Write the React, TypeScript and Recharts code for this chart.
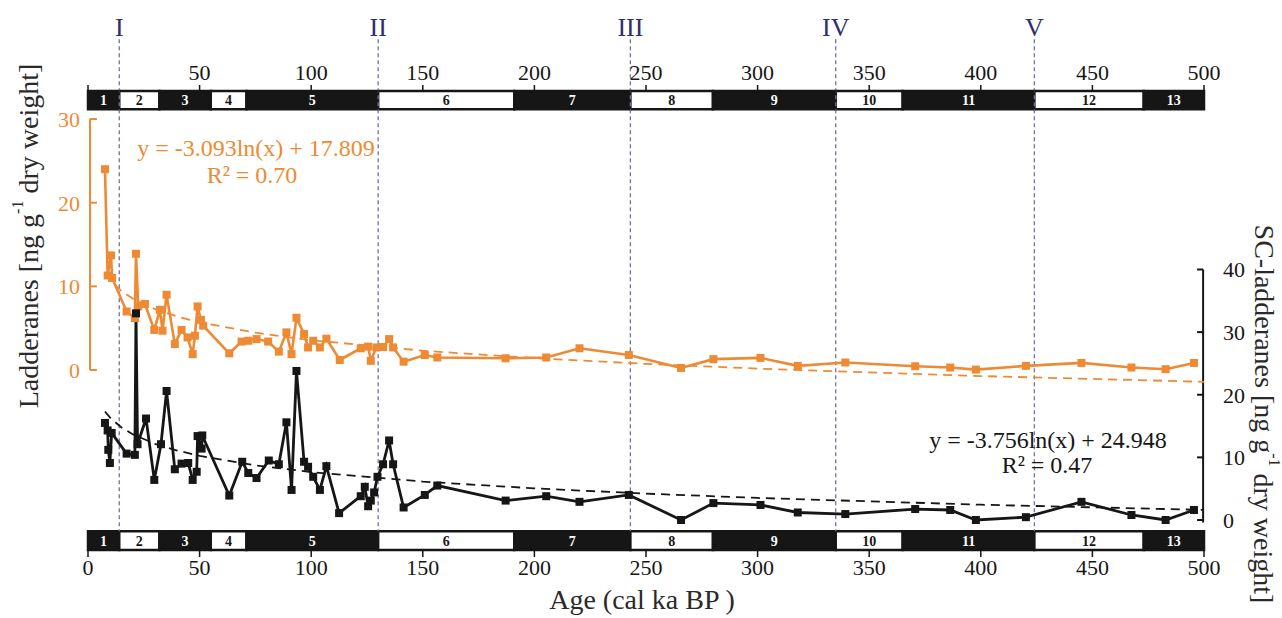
import { ComposedChart, Line, XAxis, YAxis, ReferenceArea, ReferenceLine } from "recharts"

const FONT = "'Liberation Serif', 'DejaVu Serif', serif"
const ORANGE = "#ED8A33"
const INK = "#161616"
const NAVY = "#2C3070"
const GUIDE = "#6F72A3"

// Ladderanes (left axis), age in cal ka BP
const orangeAge = [
    7.6, 8.8, 10.3, 10.8, 17.3, 21.0, 21.5, 22.5, 25.5, 29.7, 32.2, 33.4, 35.2, 38.9, 41.9, 44.6,
    46.9, 47.9, 49.1, 50.6, 51.6, 63.3, 68.8, 71.8, 75.5, 80.7, 85.5, 88.9, 91.2, 93.4, 96.8, 98.6,
    100.9, 103.9, 106.8, 112.8, 122.2, 125.5, 126.7, 129.2, 132.2, 134.9, 136.7, 141.4, 150.9, 156.5,
    187.1, 205.3, 220.2, 242.3, 265.7, 280.2, 301.3, 318.0, 339.3, 370.6, 386.3, 397.8, 420.2, 445.1,
    467.5, 482.8, 495.5,
]
const orangeVal = [
    24.0, 11.3, 13.7, 11.0, 7.0, 6.2, 13.9, 7.6, 7.9, 4.8, 7.2, 4.7, 9.0, 3.1, 4.8, 3.9,
    1.9, 4.1, 7.6, 6.0, 5.3, 2.0, 3.4, 3.5, 3.7, 3.4, 2.2, 4.5, 1.9, 6.25, 4.3, 2.7,
    3.5, 2.7, 3.75, 1.2, 2.6, 2.8, 1.1, 2.7, 2.75, 3.7, 2.7, 1.0, 1.8, 1.5,
    1.4, 1.5, 2.6, 1.8, 0.25, 1.3, 1.45, 0.5, 0.9, 0.45, 0.3, 0.05, 0.5, 0.85,
    0.3, 0.1, 0.85,
]

// SC-ladderanes (right axis)
const blackAge = [
    7.6, 8.8, 9.1, 9.8, 10.6, 17.3, 21.0, 21.5, 22.2, 26.0, 29.7, 32.7, 35.2, 38.9, 41.9, 44.9,
    46.9, 48.7, 49.1, 50.9, 51.2, 63.3, 69.1, 71.8, 75.5, 81.0, 85.5, 88.9, 91.2, 93.4, 96.8, 98.6,
    100.9, 103.9, 106.8, 112.5, 122.2, 124.0, 125.5, 126.7, 128.2, 129.7, 132.2, 134.9, 136.7, 141.4,
    150.9, 156.5, 187.1, 205.3, 220.2, 242.3, 265.7, 280.2, 301.3, 318.0, 339.3, 370.6, 386.3, 397.8,
    420.2, 445.1, 467.5, 482.8, 495.5,
]
const blackVal = [
    15.5, 14.3, 11.2, 9.1, 13.9, 10.6, 10.4, 33.0, 12.1, 16.2, 6.4, 12.1, 20.6, 8.1, 9.0, 9.1,
    6.4, 7.7, 13.4, 11.4, 13.5, 3.9, 9.3, 7.5, 6.7, 9.5, 8.9, 15.6, 4.8, 23.8, 9.3, 8.5,
    6.9, 4.8, 8.6, 1.1, 3.8, 5.3, 2.2, 3.1, 4.4, 6.9, 8.9, 12.7, 8.9, 2.0,
    4.0, 5.5, 3.1, 3.8, 2.9, 4.0, 0.0, 2.7, 2.4, 1.2, 0.95, 1.75, 1.6, 0.0,
    0.45, 2.9, 0.8, 0.0, 1.6,
]

// log trendlines, sampled from the fitted equations printed on the figure
const trendAge = [7.6, 10, 15, 20, 30, 40, 50, 75, 100, 150, 200, 250, 300, 400, 500]
const orangeTrend = [11.54, 10.69, 9.43, 8.54, 7.29, 6.4, 5.71, 4.46, 3.57, 2.31, 1.42, 0.73, 0.17, -0.72, -1.41]
const blackTrend = [17.33, 16.3, 14.78, 13.7, 12.17, 11.09, 10.25, 8.73, 7.65, 6.13, 5.05, 4.21, 3.52, 2.44, 1.61]

// marine isotope stages
const misEdges = [0, 14, 32, 55, 71, 130, 191, 243, 280, 335, 365, 424, 473, 500]
const misNames = ["1", "2", "3", "4", "5", "6", "7", "8", "9", "10", "11", "12", "13"]

const periodAges = [14, 130, 243, 335, 424]
const periodNames = ["I", "II", "III", "IV", "V"]

const ageTicks = [0, 50, 100, 150, 200, 250, 300, 350, 400, 450, 500]
const leftTicks = [0, 10, 20, 30]
const rightTicks = [0, 10, 20, 30, 40]

const orangeData = orangeAge.map((age, i) => ({ age, v: orangeVal[i] }))
const blackData = blackAge.map((age, i) => ({ age, v: blackVal[i] }))
const orangeTrendData = trendAge.map((age, i) => ({ age, v: orangeTrend[i] }))
const blackTrendData = trendAge.map((age, i) => ({ age, v: blackTrend[i] }))

const square = (fill: string) => (p: any) => (
    <rect key={`sq-${p.index}`} x={p.cx - 4} y={p.cy - 4} width={8} height={8} fill={fill} />
)

const tickFont = { fontSize: 22, fontFamily: FONT }

function MisBar({ top }: { top: boolean }) {
    const y1 = top ? 0 : 95.9
    const y2 = top ? 4 : 100
    return (
        <>
            {misNames.map((name, i) => {
                const odd = i % 2 === 0
                return (
                    <ReferenceArea
                        key={`${top ? "t" : "b"}-${name}`}
                        xAxisId="bottom"
                        yAxisId="frame"
                        x1={misEdges[i]}
                        x2={misEdges[i + 1]}
                        y1={y1}
                        y2={y2}
                        fill={odd ? INK : "#fff"}
                        fillOpacity={1}
                        stroke={INK}
                        strokeWidth={2.5}
                        label={{
                            value: name,
                            position: "center",
                            fill: odd ? "#fff" : INK,
                            fontSize: 14,
                            fontWeight: 700,
                            fontFamily: FONT,
                        }}
                    />
                )
            })}
        </>
    )
}

export default function App() {
    return (
        <div style={{ position: "absolute", left: 0, top: 0, width: 1282, height: 618, background: "#fff" }}>
            <ComposedChart
                width={1282}
                height={618}
                margin={{ top: 51, right: 28, bottom: 28, left: 38 }}
            >
                <XAxis
                    xAxisId="bottom"
                    dataKey="age"
                    type="number"
                    domain={[0, 500]}
                    ticks={ageTicks}
                    height={40}
                    stroke={INK}
                    strokeWidth={1.5}
                    tickSize={7}
                    tickMargin={2}
                    tick={{ ...tickFont, fill: INK }}
                    allowDataOverflow
                />
                <XAxis
                    xAxisId="top"
                    orientation="top"
                    dataKey="age"
                    type="number"
                    domain={[0, 500]}
                    ticks={ageTicks}
                    height={40}
                    stroke={INK}
                    strokeWidth={1.5}
                    tickSize={6}
                    tickMargin={5}
                    tickFormatter={(v: number) => (v === 0 ? "" : String(v))}
                    tick={{ ...tickFont, fill: INK }}
                    allowDataOverflow
                />
                <YAxis yAxisId="frame" hide width={0} type="number" domain={[0, 100]} reversed allowDataOverflow />
                <YAxis
                    yAxisId="left"
                    type="number"
                    domain={[-21.51, 33.35]}
                    ticks={leftTicks}
                    width={50}
                    axisLine={false}
                    tickLine={false}
                    tickSize={0}
                    tickMargin={8}
                    tick={{ ...tickFont, fill: ORANGE }}
                    allowDataOverflow
                />
                <YAxis
                    yAxisId="right"
                    orientation="right"
                    type="number"
                    domain={[-4.79, 68.5]}
                    ticks={rightTicks}
                    width={50}
                    axisLine={false}
                    tickLine={false}
                    tickSize={0}
                    tickMargin={19}
                    tick={{ ...tickFont, fill: INK }}
                    allowDataOverflow
                />

                {periodAges.map((age, i) => (
                    <ReferenceLine
                        key={periodNames[i]}
                        xAxisId="bottom"
                        yAxisId="frame"
                        segment={[{ x: age, y: -11.3 }, { x: age, y: 95.9 }]}
                        ifOverflow="visible"
                        stroke={GUIDE}
                        strokeWidth={1.3}
                        strokeDasharray="4 3"
                        label={{ value: periodNames[i], position: "top", offset: 3, fill: NAVY, fontSize: 26, fontFamily: FONT }}
                    />
                ))}

                <MisBar top />
                <MisBar top={false} />

                {/* left axis bracket */}
                <ReferenceLine
                    xAxisId="bottom"
                    yAxisId="left"
                    segment={[{ x: 0.9, y: 0 }, { x: 0.9, y: 30 }]}
                    ifOverflow="visible"
                    stroke={ORANGE}
                    strokeWidth={2}
                />
                {leftTicks.map((t) => (
                    <ReferenceLine
                        key={`lt-${t}`}
                        xAxisId="bottom"
                        yAxisId="left"
                        segment={[{ x: 0.9, y: t }, { x: 4, y: t }]}
                        ifOverflow="visible"
                        stroke={ORANGE}
                        strokeWidth={2}
                    />
                ))}
                {/* right axis */}
                <ReferenceLine
                    xAxisId="bottom"
                    yAxisId="right"
                    segment={[{ x: 499.6, y: -0.4 }, { x: 499.6, y: 40 }]}
                    ifOverflow="visible"
                    stroke={INK}
                    strokeWidth={2}
                />
                {rightTicks.map((t) => (
                    <ReferenceLine
                        key={`rt-${t}`}
                        xAxisId="bottom"
                        yAxisId="right"
                        segment={[{ x: 496.9, y: t }, { x: 499.6, y: t }]}
                        ifOverflow="visible"
                        stroke={INK}
                        strokeWidth={2}
                    />
                ))}

                <Line
                    xAxisId="bottom"
                    yAxisId="left"
                    data={orangeTrendData}
                    dataKey="v"
                    type="linear"
                    stroke={ORANGE}
                    strokeWidth={1.8}
                    strokeDasharray="9 6"
                    dot={false}
                    activeDot={false}
                    isAnimationActive={false}
                />
                <Line
                    xAxisId="bottom"
                    yAxisId="right"
                    data={blackTrendData}
                    dataKey="v"
                    type="linear"
                    stroke={INK}
                    strokeWidth={1.8}
                    strokeDasharray="9 6"
                    dot={false}
                    activeDot={false}
                    isAnimationActive={false}
                />
                <Line
                    xAxisId="bottom"
                    yAxisId="left"
                    data={orangeData}
                    dataKey="v"
                    type="linear"
                    stroke={ORANGE}
                    strokeWidth={2.6}
                    dot={square(ORANGE)}
                    activeDot={false}
                    isAnimationActive={false}
                />
                <Line
                    xAxisId="bottom"
                    yAxisId="right"
                    data={blackData}
                    dataKey="v"
                    type="linear"
                    stroke={INK}
                    strokeWidth={2.8}
                    dot={square(INK)}
                    activeDot={false}
                    isAnimationActive={false}
                />
            </ComposedChart>

            <svg
                width={1282}
                height={618}
                style={{ position: "absolute", left: 0, top: 0, pointerEvents: "none" }}
                fontFamily={FONT}
            >
                <text x={28} y={236} transform="rotate(-90 28 236)" textAnchor="middle" dominantBaseline="central" fontSize={28} fill="#2a2a2a">
                    Ladderanes [ng g<tspan dy={-11} fontSize={16}>-1</tspan>
                    <tspan dy={11}> dry weight]</tspan>
                </text>
                <text x={1264} y={414} transform="rotate(90 1264 414)" textAnchor="middle" dominantBaseline="central" fontSize={28} fill="#2a2a2a">
                    SC-ladderanes [ng g<tspan dy={-11} fontSize={16}>-1</tspan>
                    <tspan dy={11}> dry weight]</tspan>
                </text>
                <text x={642} y={609} textAnchor="middle" fontSize={28} fill="#2a2a2a">
                    Age (cal ka BP )
                </text>

                <text x={256} y={156} textAnchor="middle" fontSize={24} fill={ORANGE}>
                    y = -3.093ln(x) + 17.809
                </text>
                <text x={252} y={183} textAnchor="middle" fontSize={24} fill={ORANGE}>
                    R² = 0.70
                </text>
                <text x={1048} y={448} textAnchor="middle" fontSize={24} fill={INK}>
                    y = -3.756ln(x) + 24.948
                </text>
                <text x={1047} y={473} textAnchor="middle" fontSize={24} fill={INK}>
                    R² = 0.47
                </text>
            </svg>
        </div>
    )
}
